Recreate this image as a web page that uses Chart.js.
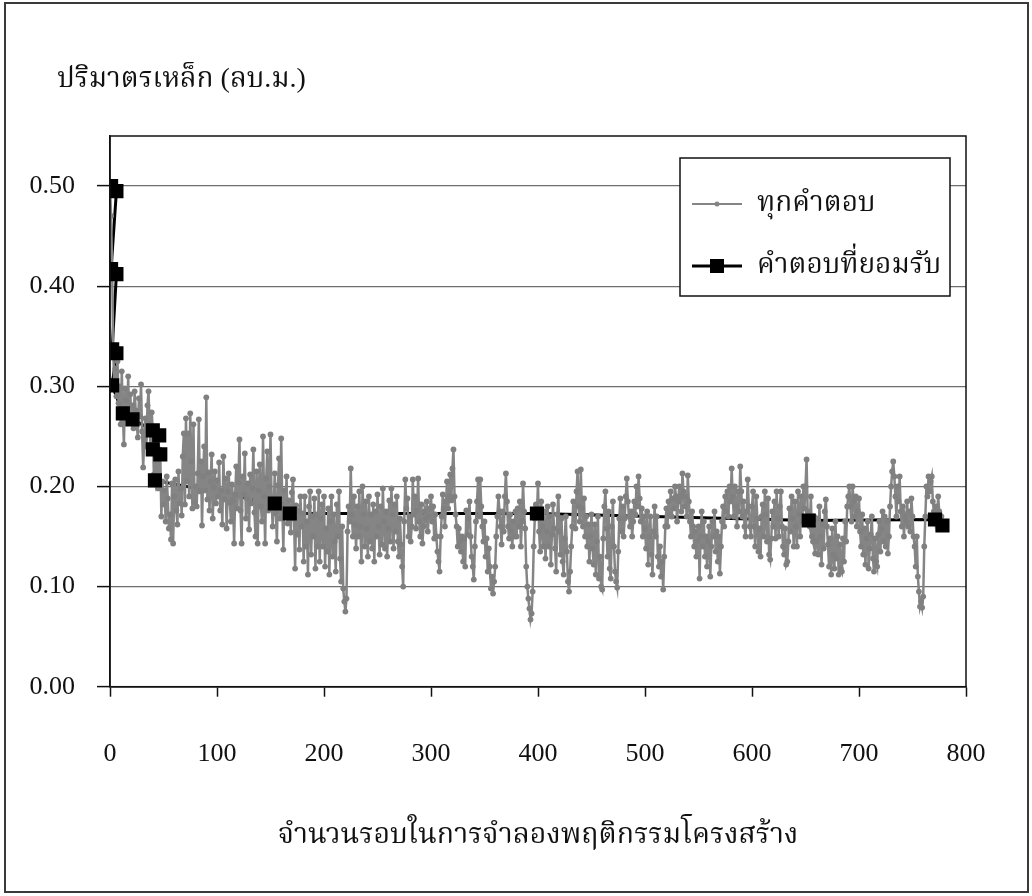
<!DOCTYPE html>
<html>
<head>
<meta charset="utf-8">
<script src="https://cdn.jsdelivr.net/npm/chart.js@4.4.1/dist/chart.umd.min.js"></script>
<style>
  html, body { margin: 0; padding: 0; background: #ffffff; }
  canvas { display: block; }
</style>
</head>
<body>
<canvas id="chart" width="1032" height="896"></canvas>
<script>
// Steel volume (m3) of every trial solution, one value per simulation run (run = index)
const allRuns = [
  0.500,0.470,0.417,0.337,0.301,0.318,0.290,0.325,0.283,0.300,
  0.262,0.315,0.273,0.242,0.298,0.286,0.271,0.310,0.265,0.292,
  0.267,0.281,0.258,0.295,0.276,0.262,0.249,0.288,0.270,0.302,
  0.255,0.219,0.247,0.268,0.240,0.281,0.295,0.262,0.236,0.274,
  0.256,0.212,0.206,0.244,0.226,0.198,0.237,0.232,0.170,0.205,
  0.182,0.196,0.165,0.210,0.188,0.158,0.172,0.147,0.203,0.143,
  0.190,0.207,0.176,0.162,0.215,0.183,0.198,0.171,0.230,0.253,
  0.182,0.268,0.205,0.253,0.190,0.273,0.225,0.178,0.262,0.184,
  0.200,0.180,0.213,0.267,0.195,0.225,0.161,0.210,0.240,0.196,
  0.289,0.187,0.214,0.176,0.205,0.232,0.168,0.199,0.215,0.183,
  0.206,0.190,0.224,0.176,0.196,0.162,0.230,0.187,0.208,0.158,
  0.195,0.213,0.184,0.165,0.202,0.186,0.143,0.192,0.220,0.178,
  0.204,0.247,0.176,0.143,0.210,0.192,0.233,0.168,0.188,0.203,
  0.157,0.212,0.183,0.198,0.237,0.174,0.150,0.215,0.143,0.196,
  0.222,0.180,0.165,0.250,0.190,0.143,0.208,0.235,0.176,0.200,
  0.252,0.188,0.160,0.183,0.213,0.173,0.145,0.201,0.228,0.168,
  0.248,0.182,0.137,0.196,0.173,0.210,0.163,0.186,0.173,0.154,
  0.194,0.207,0.168,0.118,0.181,0.152,0.176,0.137,0.190,0.160,
  0.173,0.125,0.190,0.140,0.165,0.112,0.180,0.195,0.132,0.170,
  0.150,0.188,0.118,0.172,0.140,0.195,0.125,0.168,0.182,0.140,
  0.190,0.120,0.158,0.135,0.178,0.112,0.165,0.190,0.130,0.172,
  0.145,0.115,0.182,0.150,0.195,0.128,0.105,0.160,0.098,0.085,
  0.075,0.088,0.155,0.180,0.165,0.218,0.172,0.150,0.190,0.162,
  0.138,0.180,0.150,0.195,0.160,0.125,0.200,0.172,0.140,0.185,
  0.158,0.130,0.190,0.145,0.172,0.138,0.182,0.125,0.175,0.150,
  0.192,0.160,0.132,0.180,0.142,0.198,0.165,0.138,0.175,0.130,
  0.158,0.186,0.145,0.198,0.172,0.138,0.182,0.155,0.190,0.145,
  0.130,0.168,0.142,0.120,0.100,0.165,0.207,0.178,0.188,0.150,
  0.170,0.145,0.160,0.207,0.172,0.190,0.158,0.176,0.208,0.165,
  0.150,0.182,0.143,0.160,0.175,0.168,0.185,0.155,0.170,0.178,
  0.190,0.165,0.180,0.148,0.172,0.150,0.135,0.125,0.115,0.150,
  0.170,0.192,0.178,0.160,0.185,0.205,0.178,0.190,0.212,0.186,
  0.218,0.237,0.190,0.172,0.160,0.140,0.158,0.145,0.135,0.150,
  0.125,0.148,0.120,0.176,0.152,0.168,0.185,0.150,0.130,0.120,
  0.107,0.140,0.165,0.185,0.207,0.170,0.207,0.180,0.160,0.145,
  0.165,0.130,0.148,0.115,0.138,0.120,0.098,0.110,0.093,0.105,
  0.120,0.150,0.170,0.190,0.175,0.160,0.142,0.175,0.155,0.190,
  0.213,0.185,0.160,0.148,0.172,0.155,0.140,0.165,0.150,0.175,
  0.150,0.178,0.160,0.185,0.140,0.165,0.203,0.175,0.158,0.120,
  0.100,0.088,0.078,0.067,0.073,0.095,0.140,0.168,0.182,0.173,
  0.203,0.155,0.135,0.185,0.160,0.140,0.175,0.128,0.155,0.180,
  0.140,0.170,0.122,0.152,0.182,0.158,0.138,0.115,0.172,0.190,
  0.155,0.132,0.168,0.125,0.112,0.148,0.170,0.135,0.105,0.095,
  0.115,0.140,0.160,0.185,0.172,0.158,0.195,0.215,0.180,0.165,
  0.217,0.178,0.160,0.188,0.150,0.170,0.140,0.162,0.125,0.150,
  0.172,0.138,0.122,0.162,0.112,0.145,0.170,0.108,0.130,0.100,
  0.097,0.148,0.180,0.195,0.158,0.130,0.175,0.118,0.108,0.160,
  0.185,0.140,0.115,0.105,0.099,0.135,0.168,0.188,0.155,0.180,
  0.150,0.168,0.190,0.208,0.185,0.170,0.160,0.175,0.150,0.165,
  0.185,0.172,0.200,0.180,0.210,0.188,0.165,0.178,0.150,0.170,
  0.158,0.138,0.175,0.122,0.150,0.170,0.132,0.112,0.155,0.180,
  0.150,0.170,0.130,0.120,0.140,0.110,0.125,0.097,0.130,0.160,
  0.178,0.160,0.185,0.172,0.195,0.170,0.188,0.178,0.200,0.190,
  0.165,0.185,0.200,0.190,0.175,0.213,0.195,0.180,0.190,0.170,
  0.211,0.185,0.165,0.150,0.175,0.160,0.140,0.155,0.130,0.145,
  0.160,0.108,0.150,0.175,0.140,0.165,0.130,0.150,0.120,0.145,
  0.160,0.110,0.140,0.165,0.150,0.175,0.135,0.155,0.125,0.150,
  0.113,0.140,0.165,0.180,0.160,0.190,0.175,0.195,0.170,0.200,
  0.185,0.218,0.190,0.170,0.200,0.180,0.160,0.195,0.175,0.220,
  0.195,0.170,0.185,0.160,0.150,0.175,0.207,0.180,0.160,0.150,
  0.180,0.195,0.160,0.140,0.190,0.168,0.135,0.158,0.130,0.170,
  0.182,0.150,0.195,0.172,0.145,0.188,0.132,0.127,0.148,0.175,
  0.160,0.185,0.148,0.195,0.168,0.150,0.180,0.195,0.160,0.140,
  0.132,0.158,0.122,0.125,0.145,0.178,0.155,0.190,0.168,0.140,
  0.185,0.160,0.140,0.195,0.172,0.150,0.190,0.165,0.200,0.178,
  0.200,0.227,0.175,0.166,0.160,0.190,0.150,0.145,0.170,0.133,
  0.145,0.168,0.132,0.180,0.150,0.122,0.162,0.138,0.175,0.187,
  0.160,0.142,0.120,0.148,0.112,0.158,0.132,0.118,0.165,0.128,
  0.150,0.112,0.142,0.118,0.115,0.148,0.125,0.165,0.145,0.180,
  0.190,0.200,0.180,0.165,0.200,0.185,0.170,0.190,0.160,0.175,
  0.188,0.155,0.140,0.172,0.132,0.158,0.122,0.148,0.165,0.118,
  0.138,0.152,0.170,0.128,0.115,0.148,0.125,0.120,0.152,0.165,
  0.135,0.158,0.175,0.145,0.170,0.140,0.165,0.133,0.150,0.180,
  0.200,0.215,0.225,0.210,0.190,0.170,0.200,0.185,0.210,0.175,
  0.160,0.180,0.150,0.170,0.165,0.185,0.160,0.175,0.155,0.188,
  0.170,0.150,0.140,0.120,0.150,0.110,0.095,0.080,0.085,0.079,
  0.090,0.140,0.170,0.200,0.190,0.210,0.195,0.205,0.210,0.185,
  0.175,0.167,0.180,0.170,0.190,0.175,0.165,0.170,0.161
];

// Accepted solutions: run number and steel volume (m3)
const acceptedRun    = [1, 6, 1, 6, 2, 6, 2, 12, 21, 40, 46, 40, 47, 42, 154, 168, 399, 653, 771, 778];
const acceptedVolume = [0.500, 0.495, 0.417, 0.412, 0.337, 0.333, 0.301, 0.273, 0.267, 0.256, 0.251,
                        0.237, 0.232, 0.206, 0.183, 0.173, 0.173, 0.166, 0.167, 0.161];

// Axis ticks
const xTickValues = [0, 100, 200, 300, 400, 500, 600, 700, 800];
const yTickValues = [0.00, 0.10, 0.20, 0.30, 0.40, 0.50];

const seriesNames = ['ทุกคำตอบ', 'คำตอบที่ยอมรับ'];
const yAxisTitle = 'ปริมาตรเหล็ก (ลบ.ม.)';
const xAxisTitle = 'จำนวนรอบในการจำลองพฤติกรรมโครงสร้าง';

const SERIF = '"Liberation Serif", "Noto Serif Thai", "Noto Sans Thai", "Loma", "Garuda", "Tlwg Typo", "DejaVu Serif", serif';
const GRAY = '#858585';

const allPoints = allRuns.map((v, i) => ({ x: i, y: v }));
const acceptedPoints = acceptedRun.map((r, i) => ({ x: r, y: acceptedVolume[i] }));

// white page with a thin frame around the figure
const pageFrame = {
  id: 'pageFrame',
  beforeDraw(chart) {
    const ctx = chart.ctx;
    ctx.save();
    ctx.fillStyle = '#ffffff';
    ctx.fillRect(0, 0, chart.width, chart.height);
    ctx.strokeStyle = '#3a3a3a';
    ctx.lineWidth = 2;
    ctx.strokeRect(5, 3, chart.width - 9, chart.height - 7);
    ctx.restore();
  }
};

// value-axis caption, set horizontally above the plot
const valueCaption = {
  id: 'valueCaption',
  afterDraw(chart) {
    const ctx = chart.ctx;
    ctx.save();
    ctx.fillStyle = '#111';
    ctx.font = '28px ' + SERIF;
    ctx.textAlign = 'left';
    ctx.textBaseline = 'middle';
    ctx.fillText(yAxisTitle, 57, 80);
    ctx.restore();
  }
};

// box around the plot area
const plotBox = {
  id: 'plotBox',
  afterDatasetsDraw(chart) {
    const a = chart.chartArea, ctx = chart.ctx;
    ctx.save();
    ctx.strokeStyle = '#111';
    ctx.lineWidth = 1.5;
    ctx.strokeRect(a.left, a.top, a.right - a.left, a.bottom - a.top);
    ctx.restore();
  }
};

// Excel-style legend: line sample with its marker, inside a framed box
const boxLegend = {
  id: 'boxLegend',
  afterDraw(chart) {
    const ctx = chart.ctx;
    const a = chart.chartArea;
    const left = a.right - 286, top = a.top + 22, w = 270, h = 138;
    ctx.save();
    ctx.fillStyle = '#ffffff';
    ctx.fillRect(left, top, w, h);
    ctx.strokeStyle = '#111';
    ctx.lineWidth = 1.5;
    ctx.strokeRect(left, top, w, h);
    const rows = [
      { name: seriesNames[0], y: top + 46, color: GRAY, lw: 2, marker: 'dot' },
      { name: seriesNames[1], y: top + 108, color: '#000', lw: 3, marker: 'square' }
    ];
    rows.forEach(r => {
      const x0 = left + 12, x1 = left + 62, xm = (x0 + x1) / 2;
      ctx.strokeStyle = r.color;
      ctx.lineWidth = r.lw;
      ctx.beginPath();
      ctx.moveTo(x0, r.y);
      ctx.lineTo(x1, r.y);
      ctx.stroke();
      ctx.fillStyle = r.color;
      if (r.marker === 'dot') {
        ctx.beginPath();
        ctx.arc(xm, r.y, 2.5, 0, Math.PI * 2);
        ctx.fill();
      } else {
        ctx.fillRect(xm - 7, r.y - 7, 14, 14);
      }
      ctx.fillStyle = '#111';
      ctx.font = '28px ' + SERIF;
      ctx.textBaseline = 'middle';
      ctx.textAlign = 'left';
      ctx.fillText(r.name, left + 77, r.y);
    });
    ctx.restore();
  }
};

new Chart(document.getElementById('chart'), {
  type: 'scatter',
  data: {
    datasets: [
      {
        // accepted path, drawn underneath the trial solutions
        label: seriesNames[1] + ' line',
        data: acceptedPoints,
        showLine: true,
        borderColor: '#000',
        borderWidth: 3,
        pointRadius: 0,
        pointHoverRadius: 0,
        order: 3
      },
      {
        label: seriesNames[0],
        data: allPoints,
        showLine: true,
        borderColor: GRAY,
        borderWidth: 2.5,
        pointStyle: 'circle',
        pointRadius: 2.9,
        pointBackgroundColor: '#808080',
        pointBorderColor: '#808080',
        pointBorderWidth: 0,
        order: 2
      },
      {
        label: seriesNames[1],
        data: acceptedPoints,
        showLine: false,
        pointStyle: 'rect',
        pointRadius: 10,
        pointBackgroundColor: '#000',
        pointBorderColor: '#000',
        pointBorderWidth: 0,
        order: 1
      }
    ]
  },
  options: {
    responsive: false,
    animation: false,
    devicePixelRatio: 1,
    layout: { padding: { left: 20, right: 66, top: 136, bottom: 30 } },
    plugins: {
      legend: { display: false },
      tooltip: { enabled: false },
      title: { display: false }
    },
    scales: {
      x: {
        type: 'linear',
        min: 0,
        max: 800,
        afterBuildTicks(scale) { scale.ticks = xTickValues.map(v => ({ value: v })); },
        afterFit(scale) { scale.height = 896 - 30 - 686.7; },
        ticks: {
          color: '#111',
          font: { family: SERIF, size: 26 },
          padding: 42,
          maxRotation: 0,
          callback: v => String(v)
        },
        grid: { drawOnChartArea: false, tickLength: 10, tickColor: '#111', tickWidth: 1.5 },
        border: { color: '#111', width: 1.5 },
        title: {
          display: true,
          text: xAxisTitle,
          color: '#111',
          font: { family: SERIF, size: 28.5, lineHeight: 1.2 },
          padding: { top: 0, bottom: 13 }
        }
      },
      y: {
        type: 'linear',
        min: 0,
        max: 0.55,
        afterBuildTicks(scale) { scale.ticks = yTickValues.map(v => ({ value: v })); },
        afterFit(scale) { scale.width = 90; },
        ticks: {
          color: '#111',
          font: { family: SERIF, size: 26 },
          padding: 22,
          callback: v => Number(v).toFixed(2)
        },
        grid: { color: '#6e6e6e', lineWidth: 1.2, tickLength: 13, tickColor: '#111', tickWidth: 1.5 },
        border: { color: '#111', width: 1.5 }
      }
    }
  },
  plugins: [pageFrame, plotBox, boxLegend, valueCaption]
});
</script>
</body>
</html>
